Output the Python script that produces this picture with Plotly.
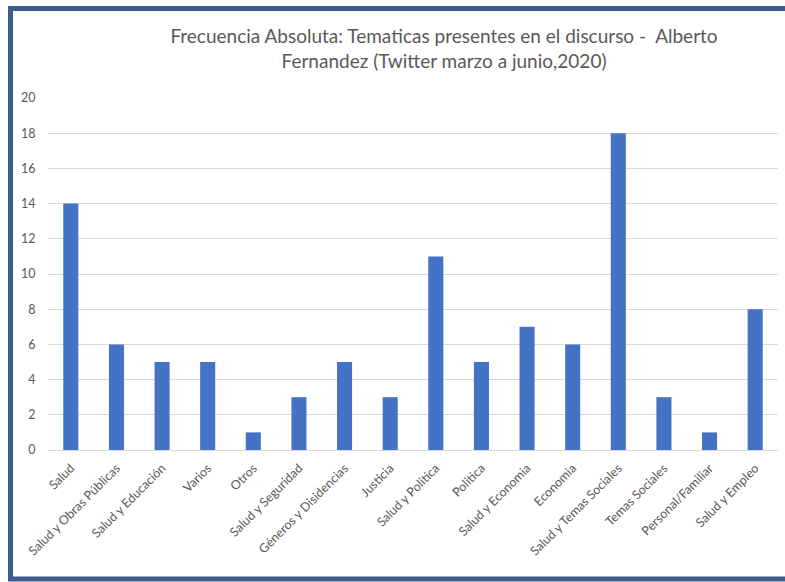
import plotly.graph_objects as go

categorias = ["Salud", "Salud y Obras Públicas", "Salud y Educación", "Varios", "Otros",
              "Salud y Seguridad", "Géneros y Disidencias", "Justicia", "Salud y Politica",
              "Politica", "Salud y Economia", "Economia", "Salud y Temas Sociales",
              "Temas Sociales", "Personal/Familiar", "Salud y Empleo"]
frecuencia = [14, 6, 5, 5, 1, 3, 5, 3, 11, 5, 7, 6, 18, 3, 1, 8]
y_ticks = [0, 2, 4, 6, 8, 10, 12, 14, 16, 18, 20]

W, H = 785, 582
L, R, T, B = 48, 7, 98, 132
pw, ph = W - L - R, H - T - B

def px(x):
    return (x - L) / pw

def py(y):
    return (H - B - y) / ph

fig = go.Figure(go.Bar(x=categorias, y=frecuencia, marker_color="#4472c4",
                       marker_line_width=0))

font = "Lato, Open Sans, sans-serif"
fig.update_layout(
    width=W, height=H,
    margin=dict(l=L, r=R, t=T, b=B, autoexpand=False),
    paper_bgcolor="white", plot_bgcolor="white",
    bargap=0.67,
    showlegend=False,
    font=dict(family=font, color="#595959", size=12.5),
    title=dict(text="Frecuencia Absoluta: Tematicas presentes en el discurso -  Alberto<br>Fernandez (Twitter marzo a junio,2020)",
               x=444 / W, xanchor="center", xref="container",
               y=1 - 43 / H, yanchor="middle", yref="container",
               font=dict(family=font, size=19, color="#595959")),
    xaxis=dict(tickangle=-45, showgrid=False, showline=False, ticks="outside",
               ticklen=5, tickcolor="white",
               tickfont=dict(size=12.5, color="#595959")),
    yaxis=dict(range=[0, 20], tickvals=y_ticks, showgrid=True, gridcolor="#d9d9d9",
               gridwidth=1, zeroline=True, zerolinecolor="#d9d9d9", zerolinewidth=1,
               showline=False, ticks="outside", ticklen=9, tickcolor="white",
               tickfont=dict(size=12.5, color="#595959")),
    shapes=[dict(type="rect", xref="paper", yref="paper",
                 x0=px(10.5), x1=px(800), y0=py(8.5), y1=py(579),
                 line=dict(color="#3b5e8c", width=5), fillcolor="rgba(0,0,0,0)",
                 layer="above")],
)

fig.write_html("out.html")
